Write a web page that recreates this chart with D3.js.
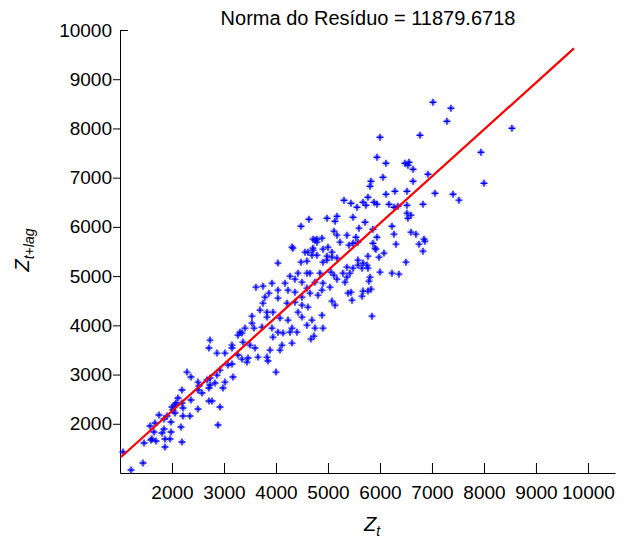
<!DOCTYPE html>
<html>
<head>
<meta charset="utf-8">
<script src="https://cdn.jsdelivr.net/npm/d3@7"></script>
<style>
  body { margin: 0; background: #fff; }
  text { font-family: "Liberation Sans", Arial, sans-serif; fill: #000; }
</style>
</head>
<body>
<svg id="chart" width="635" height="539"></svg>
<script>
// Observed series: Z_t against Z_{t+lag}
const zt = [
  1058,1212,1442,1462,1596,1577,1673,1750,1846,1846,
  1654,1692,1615,1808,1865,1865,1962,1981,1981,2173,
  2192,1904,2019,2058,2077,2115,2192,2058,2211,2211,
  2346,2365,2500,2519,2500,2711,2711,2577,2288,2365,
  2000,2192,2885,2769,2923,2500,2673,2731,2827,2981,
  2731,2865,2923,3019,3173,3077,3154,3154,2731,2711,
  2865,3019,3154,3269,3346,3365,3500,3596,3654,3462,
  3442,3827,3885,4077,4115,4308,3942,4135,4269,4673,
  4731,4000,3346,3269,3846,4308,4038,4481,4558,4692,
  4711,4788,4904,3615,3750,3923,3865,4038,4173,4231,
  4365,4365,4500,4423,4596,4654,4750,4846,4596,4654,
  4500,4808,4885,4904,3788,4038,4212,4365,4500,4615,
  3750,3692,3827,3942,3827,4077,4231,4423,4500,4692,
  4885,3538,3538,3577,3404,3308,3731,3923,4038,4308,
  4404,4596,4750,4904,5231,5481,5577,5865,5904,6308,
  6750,6827,6865,5000,5077,4981,5173,5577,5769,5981,
  6077,6500,5577,5750,5654,5481,5365,5288,5423,5365,
  5327,5173,5115,5058,5038,5808,5788,6000,6231,6365,
  5385,5442,5654,5673,5769,5827,5462,5077,5135,5846,
  5942,6115,6058,5827,5808,6115,5769,5673,5731,5885,
  5942,5558,5442,5308,5481,5712,5596,4981,5135,5173,
  4635,4481,5115,5173,5365,5538,4712,4788,4885,5865,
  6173,6346,6519,6827,6519,6596,6538,6231,6269,6596,
  6692,6846,5942,5923,5673,5769,5404,4904,4750,4712,
  4615,4788,4981,5077,4327,4596,4269,7019,7365,7288,
  6769,8538,7942,8000,6000,6481,6558,6538,6635,6923,
  6635,6288,6519,7058,7404,7519,6269
];
const zLag = [
  1426,1061,1203,1609,1670,1954,2015,2177,2096,1893,
  1832,1650,1690,1812,1690,1528,1690,1832,2035,1934,
  1629,2157,2279,2380,2421,2523,2685,2218,2320,2157,
  2157,2482,2299,2766,2847,2462,2726,2624,3050,2949,
  2340,2421,1974,2462,2340,2685,2888,2787,2827,2726,
  2929,2989,3091,2847,2949,3193,3538,3213,3700,3538,
  3436,3436,3598,3801,3842,3659,3598,3538,3355,3335,
  3253,3355,3497,3497,3598,3639,3761,3842,3862,3720,
  3781,3050,3314,3396,3274,5589,5264,5284,5487,5426,
  5568,5690,5284,4776,4796,4857,4654,4715,4857,4715,
  4674,4938,4877,5060,5060,5060,4877,5060,4756,4654,
  4573,4613,4716,4857,4573,4553,4451,4471,4410,4370,
  4451,4309,4268,4268,4167,4147,4106,4268,4167,4106,
  4207,4187,4045,3944,3944,3862,3964,3944,3862,3944,
  3862,4004,3944,3944,5690,5669,5690,5669,5568,5649,
  5649,5507,5710,5588,5487,5325,5366,5325,5406,5385,
  5467,5284,5224,5224,5162,5162,5182,5060,5060,4979,
  4877,4938,5020,5081,4776,4979,4898,5081,5060,5040,
  4654,4674,4593,4695,4695,4735,4512,4492,4410,4187,
  7415,7293,7009,6928,6826,6664,6603,6502,6441,6502,
  6461,6400,6481,6542,6197,6095,5974,6177,6116,6217,
  6156,6014,5913,5832,5832,5791,5751,5751,5771,5953,
  6461,6420,6440,6461,6279,6238,6177,6014,5852,5893,
  5852,5751,5791,5548,5264,5162,5629,5548,5731,5528,
  5487,5426,5406,5385,5568,5305,4999,8532,8410,8146,
  7862,8004,7517,6888,7821,7293,7313,7253,7171,7070,
  6928,6725,6725,6684,6664,6543,6400
];

// Least-squares fit line and the span it is drawn over
const fitSlope = 0.953;
const fitIntercept = 353;
const fitSpan = [1020, 9731];

const xTicks = [2000, 3000, 4000, 5000, 6000, 7000, 8000, 9000, 10000];
const yTicks = [2000, 3000, 4000, 5000, 6000, 7000, 8000, 9000, 10000];
const titleText = "Norma do Resíduo = 11879.6718";

const svg = d3.select("#chart");
const x = d3.scaleLinear().domain([1000, 10520]).range([120, 615]);
const y = d3.scaleLinear().domain([1000, 10000]).range([473, 30]);

// Axes
const xAxis = svg.append("g")
  .attr("transform", `translate(0,${y.range()[0]})`)
  .call(d3.axisBottom(x).tickValues(xTicks).tickFormat(d3.format("d"))
    .tickSizeInner(-10).tickSizeOuter(0).tickPadding(13));
const yAxis = svg.append("g")
  .attr("transform", `translate(${x.range()[0]},0)`)
  .call(d3.axisLeft(y).tickValues(yTicks).tickFormat(d3.format("d"))
    .tickSizeInner(7).tickSizeOuter(0).tickPadding(1));
[xAxis, yAxis].forEach(g => {
  g.selectAll("path.domain").attr("stroke", "#000").attr("stroke-width", 1);
  g.selectAll(".tick line").attr("stroke", "#000").attr("stroke-width", 1);
  g.selectAll(".tick text").style("font-size", "19px").attr("fill", "#000");
});
// the tick at the top corner of the y axis points inward
yAxis.selectAll(".tick").filter(d => d === yTicks[yTicks.length - 1])
  .select("line").attr("x2", 8);

// Scatter points drawn as asterisks
const pts = zt.map((v, i) => [v, zLag[i]]);
const marks = svg.append("g");
marks.selectAll("path.cross").data(pts).join("path")
  .attr("class", "cross")
  .attr("transform", d => `translate(${x(d[0])},${y(d[1])})`)
  .attr("d", "M-3.5,0H3.5M0,-3.5V3.5")
  .attr("stroke", "#0000ff").attr("stroke-width", 1.4).attr("fill", "none");
marks.selectAll("path.diag").data(pts).join("path")
  .attr("class", "diag")
  .attr("transform", d => `translate(${x(d[0])},${y(d[1])})`)
  .attr("d", "M-2.4,-2.4L2.4,2.4M-2.4,2.4L2.4,-2.4")
  .attr("stroke", "#0000ff").attr("stroke-opacity", 0.55).attr("stroke-width", 1).attr("fill", "none");

// Fitted line
const fit = v => fitSlope * v + fitIntercept;
svg.append("path")
  .datum(fitSpan.map(v => [v, fit(v)]))
  .attr("d", d3.line().x(d => x(d[0])).y(d => y(d[1])))
  .attr("stroke", "#ff0000").attr("stroke-width", 2.2).attr("fill", "none");

// Title
svg.append("text")
  .attr("x", 368).attr("y", 25)
  .attr("text-anchor", "middle")
  .style("font-size", "20px")
  .text(titleText);

// Axis labels
const xl = svg.append("text")
  .attr("x", 372).attr("y", 531)
  .attr("text-anchor", "middle")
  .style("font-size", "20px").style("font-style", "italic");
xl.append("tspan").text("Z");
xl.append("tspan").attr("dy", 5).style("font-size", "14px").text("t");

const yl = svg.append("text")
  .attr("transform", "translate(29,250) rotate(-90)")
  .attr("text-anchor", "middle")
  .style("font-size", "20px").style("font-style", "italic");
yl.append("tspan").text("Z");
yl.append("tspan").attr("dy", 5).style("font-size", "14px").text("t+lag");
</script>
</body>
</html>
